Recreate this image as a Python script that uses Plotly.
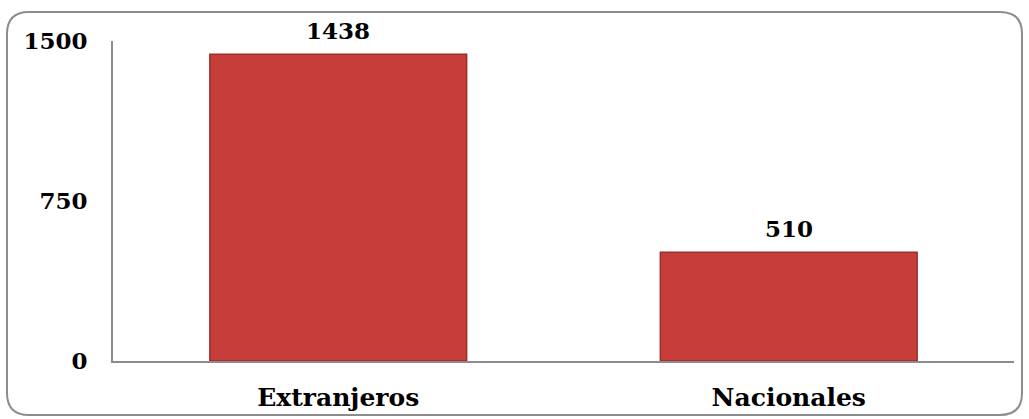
import plotly.graph_objects as go

categories = ["Extranjeros", "Nacionales"]
values = [1438, 510]
tick_vals = [0, 750, 1500]
tick_text = ["0", "750", "1500"]

W, H = 1029, 419
ML, MR, MT, MB = 113, 15, 41, 58
PW, PH = W - ML - MR, H - MT - MB

def px(x):
    return (x - ML) / PW

def py(y):
    return (H - MB - y) / PH

# rounded frame around the whole chart (pixel coords -> paper)
x0, x1, y0, y1, r = 7, 1022, 12, 415, 22
path = (
    f"M {px(x0 + r)},{py(y0)} L {px(x1 - r)},{py(y0)} "
    f"Q {px(x1)},{py(y0)} {px(x1)},{py(y0 + r)} L {px(x1)},{py(y1 - r)} "
    f"Q {px(x1)},{py(y1)} {px(x1 - r)},{py(y1)} L {px(x0 + r)},{py(y1)} "
    f"Q {px(x0)},{py(y1)} {px(x0)},{py(y1 - r)} L {px(x0)},{py(y0 + r)} "
    f"Q {px(x0)},{py(y0)} {px(x0 + r)},{py(y0)} Z"
)

font_family = "DejaVu Serif"

fig = go.Figure(
    go.Bar(
        x=categories,
        y=values,
        width=0.57,
        marker=dict(color="#c63d3a", line=dict(color="#9a2e2c", width=1.5)),
        hoverinfo="x+y",
    )
)

annotations = [
    dict(
        x=c, y=v, xref="x", yref="y",
        text=f"<b>{v}</b>",
        showarrow=False,
        yanchor="bottom",
        yshift=8,
        font=dict(family=font_family, size=23, color="black"),
    )
    for c, v in zip(categories, values)
]

fig.update_layout(
    width=W,
    height=H,
    margin=dict(l=ML, r=MR, t=MT, b=MB, autoexpand=False),
    paper_bgcolor="white",
    plot_bgcolor="white",
    showlegend=False,
    font=dict(family=font_family, size=21, color="black", weight="bold"),
    annotations=annotations,
    shapes=[
        dict(
            type="path",
            xref="paper",
            yref="paper",
            path=path,
            line=dict(color="#8c8c8c", width=2),
            layer="below",
        )
    ],
)

fig.update_yaxes(
    range=[0, 1500],
    tickvals=tick_vals,
    ticktext=tick_text,
    showgrid=False,
    zeroline=False,
    showline=True,
    linecolor="#8c8c8c",
    linewidth=2,
    ticks="",
    automargin=False,
    ticklabelstandoff=19,
    tickfont=dict(family=font_family, size=23, color="black", weight="bold"),
)
fig.update_xaxes(
    showgrid=False,
    showline=True,
    linecolor="#8c8c8c",
    linewidth=2,
    ticks="",
    automargin=False,
    ticklabelstandoff=13,
    tickfont=dict(family=font_family, size=25, color="black", weight="bold"),
)

fig.write_html(
    "out.html",
    config={"displayModeBar": False},
    post_script="document.body.style.margin='0';document.body.style.padding='0';",
)
